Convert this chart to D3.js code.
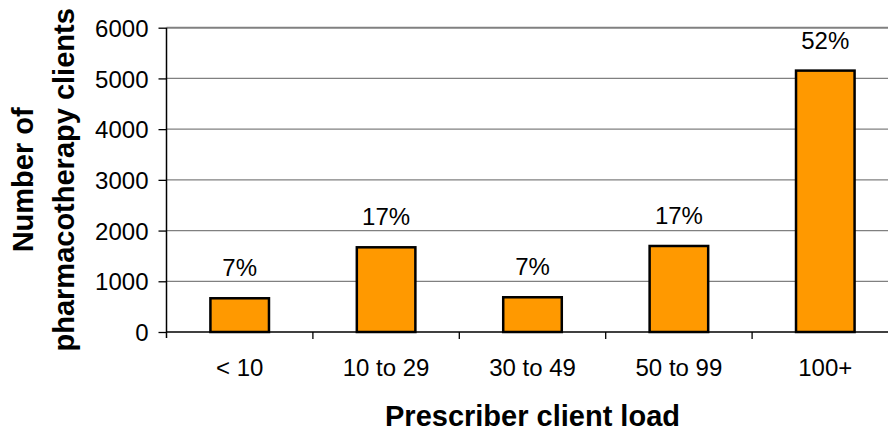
<!DOCTYPE html>
<html lang="en">
<head>
  <meta charset="UTF-8"/>
  <title>Prescriber client load</title>
  <script src="https://d3js.org/d3.v7.min.js"></script>
  <style>
    body { margin: 0; background: #fff; }
    text { font-family: Arial, "Liberation Sans", sans-serif; fill: #000; }
  </style>
</head>
<body>
<svg id="chart"></svg>
<script>
  // data
  var categories = ["< 10", "10 to 29", "30 to 49", "50 to 99", "100+"];
  var clients = [665, 1670, 685, 1696, 5154];
  var shares = ["7%", "17%", "7%", "17%", "52%"];
  var yTicks = [0, 1000, 2000, 3000, 4000, 5000, 6000];

  function draw() {
    var width = 888, height = 432;
    var mLeft = 166.5, mRight = 898.5, mTop = 27.7, mBottom = 332;

    var svg = d3.select("#chart")
        .attr("width", width)
        .attr("height", height);

    var x = d3.scaleBand()
        .domain(categories)
        .range([mLeft, mRight])
        .paddingInner(0.6)
        .paddingOuter(0.3);

    var y = d3.scaleLinear()
        .domain([0, 6000])
        .range([mBottom, mTop]);

    // gridlines
    svg.selectAll("line.grid")
        .data(yTicks.filter(function(d){ return d > 0; }))
        .enter().append("line")
        .attr("class", "grid")
        .attr("x1", mLeft).attr("x2", mRight)
        .attr("y1", function(d){ return y(d); })
        .attr("y2", function(d){ return y(d); })
        .style("stroke", "#808080")
        .style("stroke-width", function(d){ return d == 6000 ? 2 : 1.3; });

    // y axis
    var yAxis = d3.axisLeft(y).tickValues(yTicks).tickFormat(d3.format("d"))
        .tickSize(8).tickPadding(10);
    var gy = svg.append("g")
        .attr("transform", "translate(" + mLeft + ",0)")
        .call(yAxis);
    gy.select(".domain").remove();
    gy.selectAll(".tick line").style("stroke", "#000").style("stroke-width", 1.3);
    gy.selectAll(".tick text")
        .style("font-size", "24px")
        .style("font-family", "Arial, 'Liberation Sans', sans-serif")
        .attr("dy", "0.36em");
    gy.append("line")
        .attr("x1", 0).attr("x2", 0)
        .attr("y1", mTop).attr("y2", mBottom + 6)
        .style("stroke", "#000").style("stroke-width", 1.5);

    // bars
    svg.selectAll("rect.bar")
        .data(clients)
        .enter().append("rect")
        .attr("class", "bar")
        .attr("x", function(d, i){ return x(categories[i]); })
        .attr("width", x.bandwidth())
        .attr("y", function(d){ return y(d); })
        .attr("height", function(d){ return y(0) - y(d); })
        .style("fill", "#FF9900")
        .style("stroke", "#000")
        .style("stroke-width", 2.5);

    // x axis
    svg.append("line")
        .attr("x1", mLeft).attr("x2", mRight)
        .attr("y1", mBottom).attr("y2", mBottom)
        .style("stroke", "#000").style("stroke-width", 1.5);
    svg.selectAll("line.xtick")
        .data(categories.slice(1))
        .enter().append("line")
        .attr("class", "xtick")
        .attr("x1", function(d){ return x(d) - x.bandwidth() * 0.75; })
        .attr("x2", function(d){ return x(d) - x.bandwidth() * 0.75; })
        .attr("y1", mBottom).attr("y2", mBottom + 7)
        .style("stroke", "#000").style("stroke-width", 1.3);

    svg.selectAll("text.xlab")
        .data(categories)
        .enter().append("text")
        .attr("class", "xlab")
        .attr("x", function(d){ return x(d) + x.bandwidth() / 2; })
        .attr("y", 376)
        .attr("text-anchor", "middle")
        .style("font-size", "24px")
        .text(function(d){ return d; });

    // percentage labels
    svg.selectAll("text.share")
        .data(clients)
        .enter().append("text")
        .attr("class", "share")
        .attr("x", function(d, i){ return x(categories[i]) + x.bandwidth() / 2; })
        .attr("y", function(d){ return y(d) - 22; })
        .attr("text-anchor", "middle")
        .style("font-size", "24px")
        .text(function(d, i){ return shares[i]; });

    // axis titles
    svg.append("text")
        .attr("x", (mLeft + mRight) / 2)
        .attr("y", 426)
        .attr("text-anchor", "middle")
        .style("font-size", "29px")
        .style("font-weight", "bold")
        .text("Prescriber client load");

    var yt = svg.append("text")
        .attr("transform", "translate(0," + ((mTop + mBottom) / 2) + ") rotate(-90)")
        .attr("text-anchor", "middle")
        .style("font-size", "29px")
        .style("font-weight", "bold");
    yt.append("tspan").attr("x", 0).attr("y", 33).text("Number of");
    yt.append("tspan").attr("x", 0).attr("y", 74).text("pharmacotherapy clients");
  }

  draw();
</script>
</body>
</html>
